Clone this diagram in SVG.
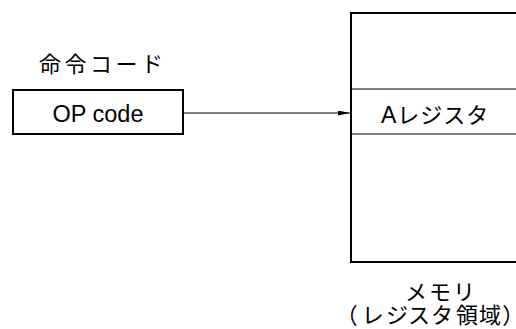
<svg xmlns="http://www.w3.org/2000/svg" width="516" height="329" viewBox="0 0 516 329">
<style>
text{font-family:"Liberation Sans","Noto Sans CJK JP",sans-serif;font-size:22px;fill:#000}
.op{font-size:23.5px}
.palt{font-feature-settings:"palt" 1}
.box{fill:#fff;stroke:#000;stroke-width:2}
.thin{stroke:#000;stroke-width:1;fill:none}
</style>
<defs>
<marker id="ah" viewBox="0 0 12 6" refX="12" refY="3" markerWidth="12" markerHeight="5" markerUnits="userSpaceOnUse" orient="auto" preserveAspectRatio="none"><path d="M0,0L12,3L0,6z" fill="#000"/></marker>
</defs>
<rect width="516" height="329" fill="#fff"/>
<g id="opcode">
<text x="39" y="72" letter-spacing="3.5">命令コード</text>
<rect class="box" x="13" y="90" width="170" height="44"/>
<text class="op" x="98" y="122" text-anchor="middle">OP code</text>
</g>
<g id="memory">
<rect class="box" x="351" y="13" width="175" height="249"/>
<line class="thin" x1="351" y1="89" x2="516" y2="89"/>
<line class="thin" x1="351" y1="134" x2="516" y2="134"/>
<text x="381" y="123" letter-spacing="1"><tspan font-size="23">A</tspan>レジスタ</text>
<text x="405" y="300" letter-spacing="2">メモリ</text>
<text class="palt" x="346 363 386 409 432 456 479 503" y="323">（レジスタ領域）</text>
</g>
<g id="connectors">
<line class="thin" x1="184" y1="113" x2="350" y2="113" marker-end="url(#ah)"/>
</g>
</svg>
